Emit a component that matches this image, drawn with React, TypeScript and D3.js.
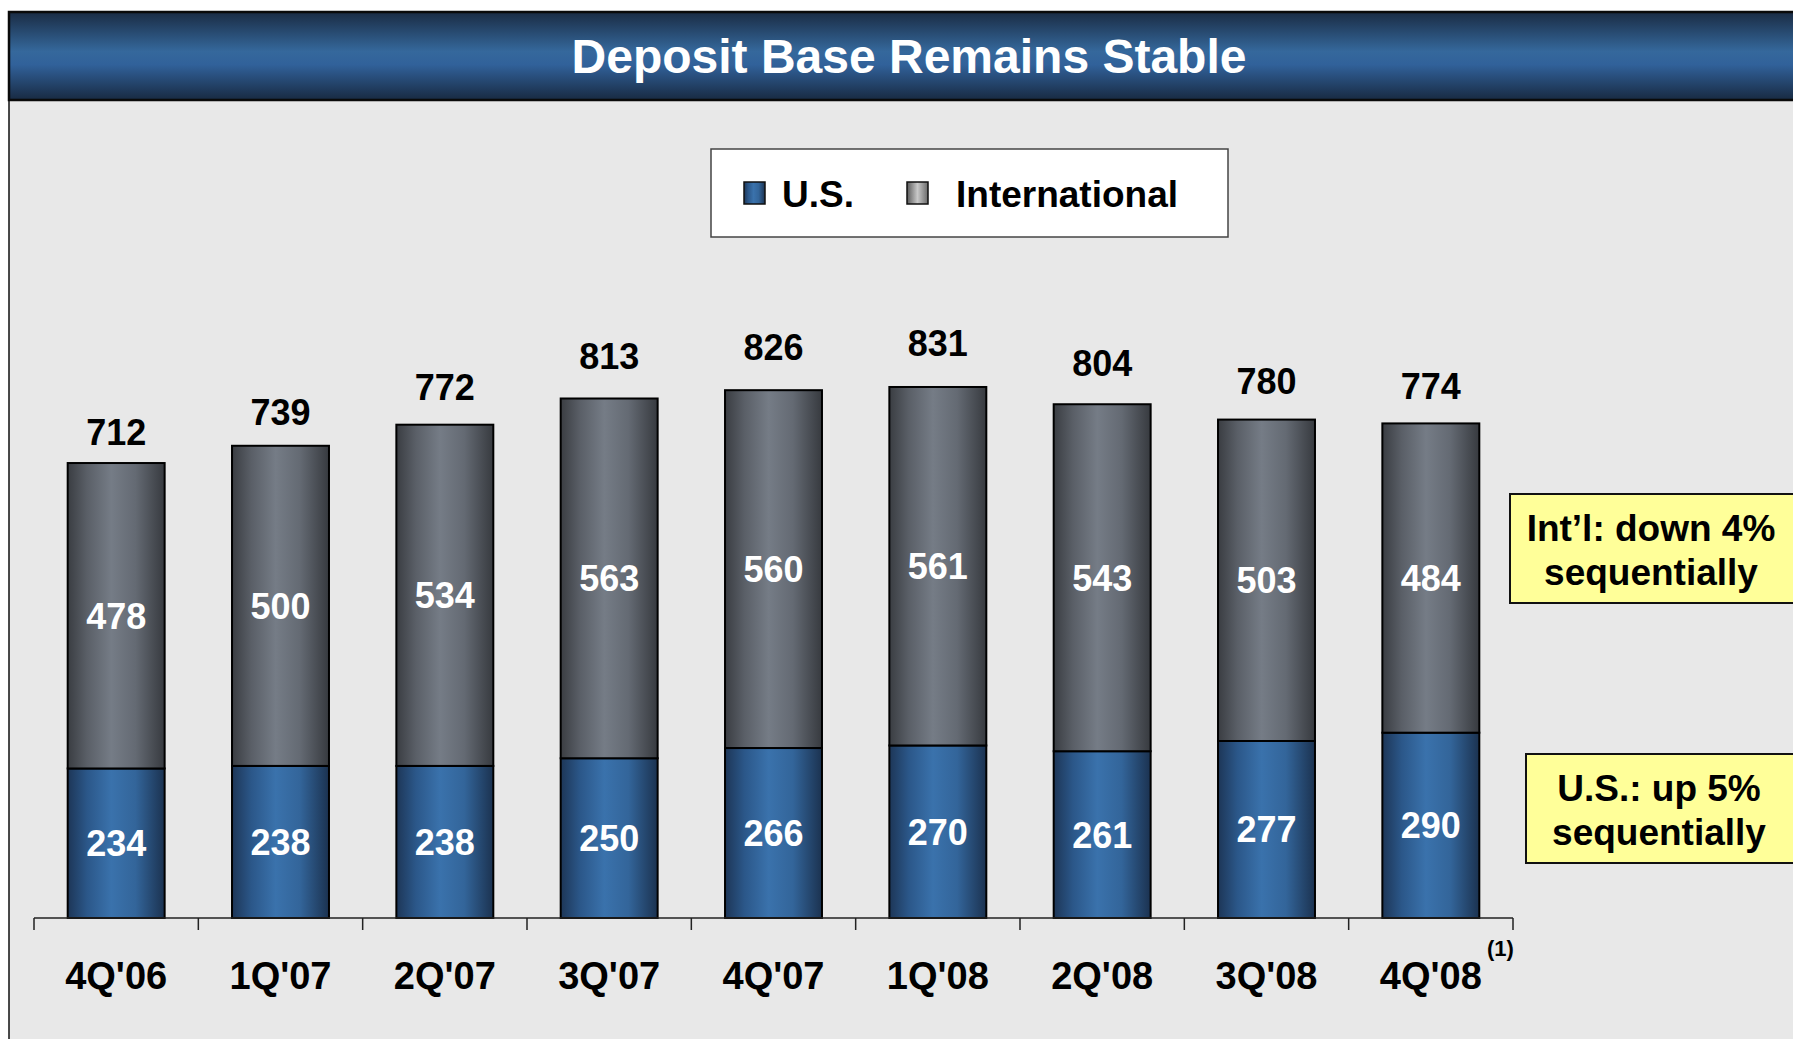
import React from "react";
import * as d3 from "d3";

const categories = ["4Q'06", "1Q'07", "2Q'07", "3Q'07", "4Q'07", "1Q'08", "2Q'08", "3Q'08", "4Q'08"];
const usValues = [234, 238, 238, 250, 266, 270, 261, 277, 290];
const intlValues = [478, 500, 534, 563, 560, 561, 543, 503, 484];
const totals = [712, 739, 772, 813, 826, 831, 804, 780, 774];
const seriesNames = ["U.S.", "International"];
const title = "Deposit Base Remains Stable";
const calloutIntl = ["Int\u2019l: down 4%", "sequentially"];
const calloutUS = ["U.S.: up 5%", "sequentially"];
const footnote = "(1)";

const W = 1793;
const H = 1039;
const FONT = "'Liberation Sans', Arial, Helvetica, sans-serif";

export default function App() {
  const x = d3.scaleBand<string>().domain(categories).range([34, 1513]).paddingInner(0.41).paddingOuter(0.205);
  const y = d3.scaleLinear().domain([0, 1000]).range([918, 279]);
  const totalLabelY = d3.scaleLinear().domain([712, 831]).range([445, 356]);
  const rows = categories.map((c, i) => ({ cat: c, us: usValues[i], intl: intlValues[i] }));
  const stack = d3.stack<any>().keys(["us", "intl"]);
  const layers = stack(rows);
  const step = x.step();
  const bw = x.bandwidth();
  const tickXs = categories.map((c) => (x(c) as number) - (step * 0.41) / 2);
  tickXs.push((x(categories[categories.length - 1]) as number) + bw + (step * 0.41) / 2);

  return (
    <div>
      <style>{`body{margin:0;}`}</style>
      <svg width={W} height={H} style={{ display: "block" }} fontFamily={FONT}>
        <defs>
          <linearGradient id="banner" x1="0" y1="0" x2="0" y2="1">
            <stop offset="0" stopColor="#1a2c44" />
            <stop offset="0.45" stopColor="#35689c" />
            <stop offset="0.6" stopColor="#31619a" />
            <stop offset="1" stopColor="#182a42" />
          </linearGradient>
          <linearGradient id="gBlue" x1="0" y1="0" x2="1" y2="0">
            <stop offset="0" stopColor="#1d3657" />
            <stop offset="0.2" stopColor="#2b5789" />
            <stop offset="0.45" stopColor="#3a72ac" />
            <stop offset="0.7" stopColor="#33659a" />
            <stop offset="1" stopColor="#1b3250" />
          </linearGradient>
          <linearGradient id="gGray" x1="0" y1="0" x2="1" y2="0">
            <stop offset="0" stopColor="#3a3d42" />
            <stop offset="0.2" stopColor="#5a5f67" />
            <stop offset="0.45" stopColor="#757c86" />
            <stop offset="0.7" stopColor="#646a73" />
            <stop offset="1" stopColor="#373a3f" />
          </linearGradient>
          <linearGradient id="gLegGray" x1="0" y1="0" x2="1" y2="0">
            <stop offset="0" stopColor="#5a5a5a" />
            <stop offset="0.5" stopColor="#c8c8c8" />
            <stop offset="1" stopColor="#6a6a6a" />
          </linearGradient>
        </defs>
        <rect x={0} y={0} width={W} height={H} fill="#ffffff" />
        {/* panel */}
        <rect x={9} y={100} width={W} height={H} fill="#e8e8e8" stroke="#111" strokeWidth={1.5} />
        {/* banner */}
        <rect x={9} y={12} width={W} height={88} fill="url(#banner)" stroke="#0a0a0a" strokeWidth={2.5} />
        <text x={909} y={73} textAnchor="middle" fill="#fff" fontWeight="bold" fontSize={48}>
          {title}
        </text>

        {/* legend */}
        <rect x={711} y={149} width={517} height={88} fill="#fff" stroke="#444" strokeWidth={1.5} />
        <rect x={744} y={182} width={21} height={22} fill="url(#gBlue)" stroke="#111" strokeWidth={1.5} />
        <text x={782} y={207} fontWeight="bold" fontSize={37} fill="#000">{seriesNames[0]}</text>
        <rect x={907} y={182} width={21} height={22} fill="url(#gLegGray)" stroke="#111" strokeWidth={1.5} />
        <text x={956} y={207} fontWeight="bold" fontSize={37} fill="#000">{seriesNames[1]}</text>

        {/* bars */}
        {layers.map((layer, li) => (
          <g key={li}>
            {layer.map((d, i) => (
              <rect
                key={i}
                x={x(categories[i]) as number}
                y={y(li === 1 ? totals[i] : d[1])}
                width={bw}
                height={y(d[0]) - y(li === 1 ? totals[i] : d[1])}
                fill={li === 0 ? "url(#gBlue)" : "url(#gGray)"}
                stroke="#000"
                strokeWidth={2}
              />
            ))}
          </g>
        ))}
        {/* labels */}
        {categories.map((c, i) => {
          const cx = (x(c) as number) + bw / 2;
          return (
            <g key={c} fontWeight="bold" fontSize={36} textAnchor="middle">
              <text x={cx} y={(y(0) + y(usValues[i])) / 2 + 13} fill="#fff">{usValues[i]}</text>
              <text x={cx} y={(y(usValues[i]) + y(totals[i])) / 2 + 13} fill="#fff">{intlValues[i]}</text>
              <text x={cx} y={totalLabelY(totals[i])} fill="#000">{totals[i]}</text>
              <text x={cx} y={989} fill="#000" fontSize={38}>{c}</text>
            </g>
          );
        })}
        <text x={1487} y={956} fontWeight="bold" fontSize={22} fill="#000">{footnote}</text>

        {/* axis */}
        <line x1={tickXs[0]} x2={tickXs[tickXs.length - 1]} y1={918} y2={918} stroke="#222" strokeWidth={1.5} />
        {tickXs.map((t, i) => (
          <line key={i} x1={t} x2={t} y1={918} y2={930} stroke="#222" strokeWidth={1.5} />
        ))}

        {/* callouts */}
        <rect x={1510} y={494} width={300} height={109} fill="#ffff99" stroke="#111" strokeWidth={2} />
        <text x={1651} y={541} textAnchor="middle" fontWeight="bold" fontSize={37} fill="#000">{calloutIntl[0]}</text>
        <text x={1651} y={585} textAnchor="middle" fontWeight="bold" fontSize={37} fill="#000">{calloutIntl[1]}</text>
        <rect x={1526} y={754} width={300} height={109} fill="#ffff99" stroke="#111" strokeWidth={2} />
        <text x={1659} y={801} textAnchor="middle" fontWeight="bold" fontSize={37} fill="#000">{calloutUS[0]}</text>
        <text x={1659} y={845} textAnchor="middle" fontWeight="bold" fontSize={37} fill="#000">{calloutUS[1]}</text>
      </svg>
    </div>
  );
}
